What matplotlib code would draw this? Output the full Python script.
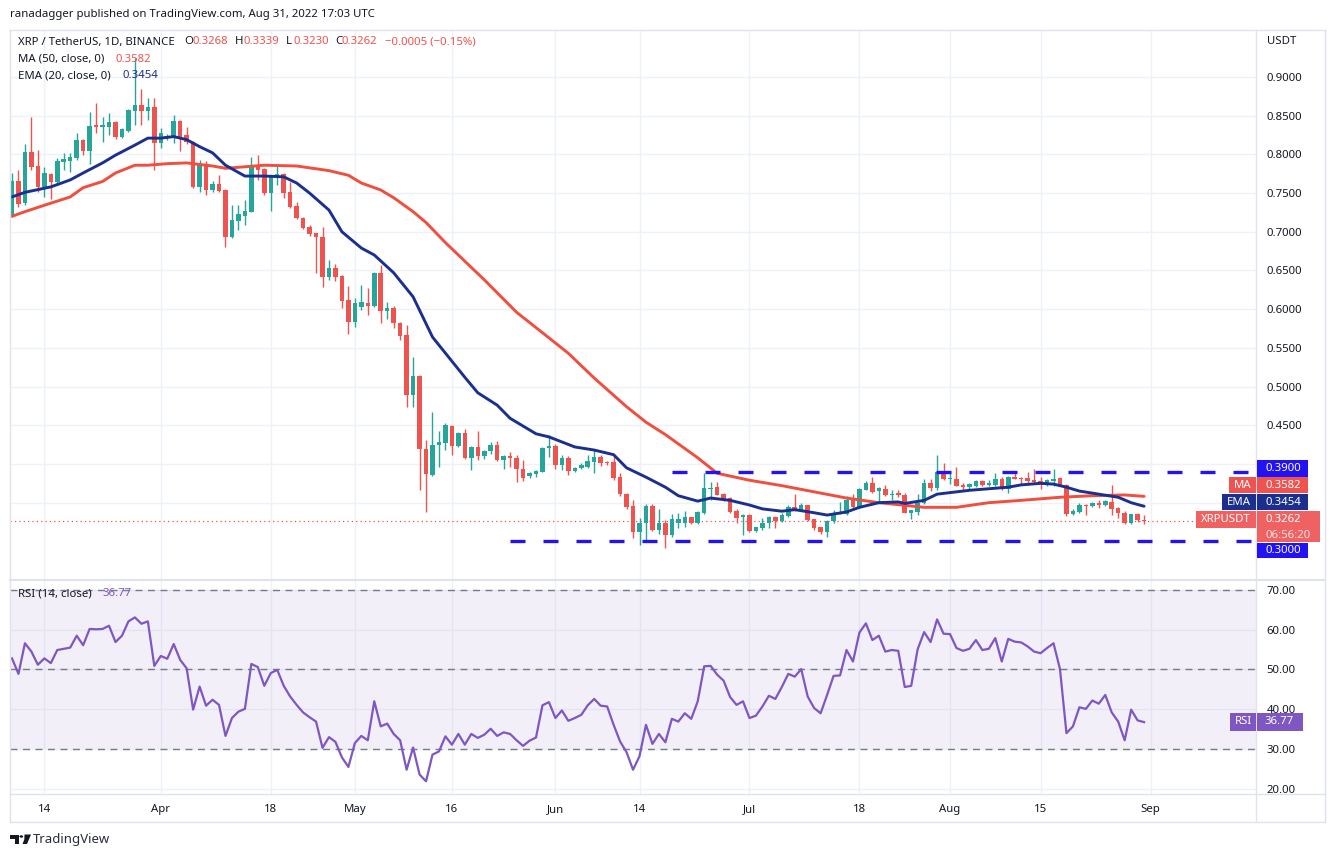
import matplotlib
matplotlib.use("Agg")
import matplotlib.pyplot as plt
import numpy as np
import pandas as pd
from matplotlib.patches import Rectangle, Polygon, Circle
from matplotlib.lines import Line2D

plt.rcParams['font.family'] = ['Noto Sans', 'DejaVu Sans']

# ---------------- data ----------------
dates = pd.date_range("2022-03-09", "2022-08-31", freq="D")

opens = [0.719,0.766,0.737,0.803,0.785,0.758,0.775,0.764,0.790,0.791,
         0.795,0.819,0.804,0.837,0.836,0.836,0.842,0.822,0.830,0.856,
         0.864,0.856,0.861,0.815,0.821,0.822,0.843,0.825,0.816,0.758,
         0.786,0.754,0.762,0.754,0.693,0.714,0.721,0.726,0.786,0.781,
         0.750,0.770,0.775,0.751,0.733,0.718,0.706,0.698,0.693,0.642,
         0.653,0.643,0.612,0.583,0.603,0.608,0.604,0.647,0.598,0.602,
         0.582,0.567,0.489,0.514,0.419,0.386,0.424,0.427,0.449,0.423,
         0.440,0.408,0.422,0.410,0.417,0.424,0.405,0.410,0.408,0.393,
         0.384,0.387,0.390,0.421,0.423,0.399,0.408,0.391,0.395,0.396,
         0.403,0.409,0.402,0.402,0.383,0.361,0.346,0.312,0.324,0.346,
         0.315,0.324,0.308,0.324,0.324,0.331,0.324,0.337,0.368,0.370,
         0.361,0.356,0.339,0.331,0.334,0.314,0.317,0.324,0.332,0.326,
         0.333,0.344,0.341,0.347,0.329,0.318,0.312,0.326,0.336,0.335,
         0.353,0.344,0.367,0.375,0.365,0.368,0.360,0.362,0.360,0.337,
         0.338,0.350,0.376,0.369,0.390,0.380,0.381,0.373,0.370,0.372,
         0.378,0.373,0.373,0.381,0.368,0.383,0.382,0.382,0.379,0.378,
         0.375,0.378,0.382,0.373,0.335,0.338,0.347,0.346,0.350,0.347,
         0.351,0.343,0.337,0.324,0.335,0.3268]

highs = [0.776,0.780,0.813,0.848,0.806,0.784,0.776,0.795,0.802,0.802,
         0.828,0.820,0.855,0.866,0.848,0.853,0.843,0.834,0.858,0.924,
         0.884,0.873,0.873,0.834,0.826,0.851,0.844,0.835,0.817,0.793,
         0.792,0.766,0.773,0.755,0.735,0.735,0.741,0.797,0.799,0.782,
         0.772,0.786,0.776,0.764,0.738,0.719,0.709,0.699,0.706,0.664,
         0.658,0.644,0.630,0.614,0.631,0.628,0.648,0.657,0.609,0.604,
         0.583,0.580,0.538,0.515,0.431,0.467,0.443,0.453,0.450,0.441,
         0.445,0.423,0.443,0.418,0.428,0.430,0.411,0.415,0.411,0.405,
         0.389,0.392,0.422,0.437,0.426,0.412,0.410,0.396,0.401,0.412,
         0.418,0.412,0.404,0.413,0.388,0.362,0.353,0.330,0.348,0.348,
         0.342,0.328,0.335,0.337,0.339,0.332,0.339,0.388,0.377,0.377,
         0.362,0.357,0.342,0.335,0.335,0.318,0.330,0.333,0.333,0.337,
         0.347,0.361,0.349,0.347,0.329,0.319,0.328,0.340,0.351,0.358,
         0.361,0.369,0.378,0.383,0.370,0.373,0.366,0.366,0.362,0.341,
         0.361,0.380,0.381,0.412,0.401,0.388,0.396,0.375,0.376,0.379,
         0.379,0.379,0.388,0.383,0.384,0.389,0.383,0.390,0.394,0.383,
         0.381,0.394,0.383,0.374,0.342,0.350,0.348,0.351,0.354,0.354,
         0.373,0.344,0.339,0.336,0.337,0.3339]

lows = [0.719,0.732,0.735,0.780,0.751,0.745,0.742,0.763,0.780,0.777,
        0.793,0.799,0.788,0.828,0.816,0.825,0.820,0.821,0.829,0.838,
        0.838,0.844,0.780,0.808,0.818,0.815,0.804,0.814,0.757,0.751,
        0.748,0.751,0.752,0.680,0.692,0.702,0.709,0.725,0.767,0.748,
        0.727,0.760,0.744,0.731,0.716,0.703,0.694,0.647,0.629,0.638,
        0.636,0.602,0.568,0.577,0.599,0.593,0.603,0.582,0.587,0.576,
        0.560,0.474,0.474,0.366,0.338,0.385,0.396,0.418,0.412,0.422,
        0.407,0.392,0.405,0.406,0.413,0.404,0.394,0.396,0.377,0.378,
        0.382,0.383,0.389,0.409,0.394,0.392,0.386,0.389,0.393,0.395,
        0.388,0.397,0.399,0.379,0.358,0.342,0.304,0.295,0.300,0.313,
        0.310,0.291,0.306,0.317,0.319,0.323,0.323,0.336,0.353,0.360,
        0.352,0.337,0.324,0.308,0.312,0.312,0.315,0.317,0.317,0.325,
        0.331,0.339,0.339,0.326,0.315,0.310,0.306,0.324,0.335,0.334,
        0.343,0.343,0.366,0.363,0.351,0.359,0.353,0.357,0.337,0.329,
        0.334,0.348,0.365,0.367,0.379,0.374,0.371,0.367,0.368,0.370,
        0.372,0.371,0.372,0.366,0.362,0.380,0.374,0.376,0.376,0.368,
        0.372,0.371,0.371,0.333,0.334,0.337,0.334,0.345,0.343,0.346,
        0.334,0.330,0.323,0.322,0.325,0.3230]

closes = [0.766,0.736,0.803,0.784,0.758,0.776,0.764,0.791,0.794,0.797,
          0.819,0.804,0.837,0.836,0.837,0.842,0.822,0.833,0.857,0.864,
          0.856,0.861,0.815,0.828,0.824,0.843,0.822,0.816,0.758,0.786,
          0.754,0.762,0.753,0.693,0.715,0.723,0.727,0.786,0.780,0.750,
          0.771,0.775,0.750,0.732,0.718,0.705,0.697,0.693,0.642,0.653,
          0.642,0.611,0.583,0.608,0.609,0.604,0.647,0.598,0.602,0.582,
          0.565,0.489,0.514,0.419,0.387,0.424,0.429,0.450,0.423,0.440,
          0.408,0.422,0.410,0.417,0.424,0.405,0.410,0.408,0.393,0.382,
          0.388,0.391,0.421,0.423,0.399,0.408,0.391,0.395,0.399,0.404,
          0.409,0.401,0.401,0.382,0.361,0.344,0.312,0.324,0.346,0.315,
          0.324,0.308,0.329,0.329,0.331,0.324,0.338,0.369,0.369,0.360,
          0.355,0.338,0.330,0.334,0.313,0.318,0.324,0.331,0.326,0.334,
          0.344,0.341,0.347,0.328,0.317,0.312,0.326,0.337,0.337,0.354,
          0.344,0.368,0.376,0.364,0.369,0.360,0.361,0.360,0.337,0.340,
          0.350,0.376,0.369,0.390,0.381,0.381,0.372,0.370,0.374,0.378,
          0.373,0.376,0.381,0.368,0.383,0.381,0.381,0.378,0.377,0.375,
          0.379,0.381,0.372,0.335,0.339,0.347,0.346,0.350,0.347,0.352,
          0.342,0.337,0.324,0.335,0.328,0.3262]

rsi_values = [52.8,48.9,56.6,54.5,51.2,52.8,51.6,54.9,55.2,55.5,
              58.5,56.1,60.2,60.1,60.2,61.0,56.9,58.5,62.1,63.1,
              61.5,62.1,50.9,53.4,52.7,56.4,52.4,50.3,39.9,45.7,
              40.9,42.4,41.1,33.3,37.8,39.4,40.1,51.4,50.6,45.9,
              49.1,49.9,45.9,43.2,41.1,39.2,38.0,36.9,30.3,33.0,
              31.8,27.9,25.5,31.5,33.3,32.2,42.0,35.7,36.4,33.8,
              32.2,24.8,30.4,23.6,21.9,28.6,29.4,33.2,31.1,33.8,
              31.1,33.8,32.8,33.6,35.1,33.3,34.2,33.8,32.2,30.8,
              32.1,32.9,41.0,41.8,37.8,39.7,37.1,37.8,38.6,41.0,
              42.6,40.9,40.7,36.1,31.9,29.2,24.8,28.2,36.1,31.3,
              33.8,31.7,37.6,36.9,39.0,37.6,42.0,50.8,50.9,48.7,
              47.2,43.1,41.1,42.0,37.8,38.4,40.7,43.4,42.6,45.6,
              48.9,48.2,50.1,43.2,40.3,39.0,43.6,48.4,48.5,54.9,
              52.0,59.3,61.6,57.4,58.5,54.5,54.9,54.7,45.6,45.9,
              55.1,59.4,56.9,62.6,59.0,58.9,55.4,54.7,55.2,57.4,
              54.9,55.2,57.9,52.0,57.7,57.0,56.8,55.8,54.5,54.1,
              55.4,56.6,50.1,34.0,35.7,40.5,40.1,42.2,41.4,43.6,
              39.2,36.9,32.2,39.9,37.2,36.77]

# moving averages read at sample days (day index from first candle)
ma50_days = [0,2,6,9,11,14,16,19,21,24,27,31,33,39,44,49,52,54,57,59,62,64,67,73,78,
             83,86,90,95,98,101,106,109,114,119,124,129,134,141,146,151,156,162,167,172,175]
ma50_values = [0.720,0.726,0.737,0.745,0.757,0.765,0.776,0.786,0.786,0.788,0.789,0.785,
               0.782,0.786,0.785,0.779,0.773,0.763,0.754,0.744,0.726,0.712,0.686,0.638,
               0.596,0.563,0.543,0.511,0.474,0.454,0.438,0.408,0.388,0.379,0.372,0.364,
               0.356,0.350,0.344,0.344,0.350,0.353,0.357,0.359,0.360,0.3582]
ema20_days = [0,2,6,9,11,14,16,19,21,23,25,27,29,31,33,36,39,42,44,46,49,51,54,56,59,62,
              65,70,72,75,77,81,83,87,90,93,95,98,101,103,106,108,111,114,116,119,121,124,
              126,129,131,134,137,138,141,143,146,148,151,154,156,159,161,163,165,168,171,
              173,175]
ema20_values = [0.745,0.751,0.758,0.767,0.776,0.789,0.799,0.812,0.821,0.821,0.823,0.819,
                0.810,0.802,0.786,0.772,0.772,0.771,0.763,0.750,0.728,0.700,0.679,0.670,
                0.647,0.616,0.564,0.512,0.492,0.476,0.459,0.439,0.435,0.422,0.418,0.412,
                0.395,0.383,0.370,0.359,0.352,0.356,0.353,0.347,0.342,0.339,0.341,0.337,
                0.334,0.338,0.344,0.350,0.351,0.349,0.353,0.361,0.364,0.366,0.368,0.370,
                0.373,0.375,0.374,0.370,0.365,0.361,0.357,0.350,0.3454]

change_abs = -0.0005
change_pct = -0.15
resistance_level = 0.39
resistance_start = "2022-06-19"
support_level = 0.30
support_start = "2022-05-25"
last_price = 0.3262
countdown = "06:56:20"

tick_dates = ["2022-03-14","2022-04-01","2022-04-18","2022-05-01","2022-05-16","2022-06-01",
              "2022-06-14","2022-07-01","2022-07-18","2022-08-01","2022-08-15","2022-09-01"]
tick_labels = ["14","Apr","18","May","16","Jun","14","Jul","18","Aug","15","Sep"]
month_labels = {"Apr","May","Jun","Jul","Aug","Sep"}
price_ticks = [0.35,0.40,0.45,0.50,0.55,0.60,0.65,0.70,0.75,0.80,0.85,0.90]
hidden_price_labels = [0.35, 0.40]   # covered by the MA / EMA / 0.39 tags
rsi_ticks = [20,30,40,50,60,70]

# ---------------- style ----------------
GREEN = '#26a69a'
RED = '#ef5350'
MA_COLOR = '#f04e3e'
EMA_COLOR = '#1b2f8f'
LEVEL_BLUE = '#2313f2'
RSI_COLOR = '#7e57c2'
TXT = '#131722'
GRID = '#eef1f6'
BORDER = '#e0e3eb'

W, H = 1335, 857
fig = plt.figure(figsize=(W / 100, H / 100), dpi=100)
fig.patch.set_facecolor('white')

def fx(px):
    return px / W

def fy(py):
    return 1 - py / H

L, R = 10, 1256
P_TOP, P_BOT = 30, 579
R_TOP, R_BOT = 580, 794

ax = fig.add_axes([fx(L), fy(P_BOT), (R - L) / W, (P_BOT - P_TOP) / H])
axr = fig.add_axes([fx(L), fy(R_BOT), (R - L) / W, (R_BOT - R_TOP) / H], sharex=ax)

t0 = dates[0]
x = np.array([(d - t0).days for d in dates], dtype=float)
o = np.array(opens); h = np.array(highs); l = np.array(lows); c = np.array(closes)
up = c >= o
cols = np.where(up, GREEN, RED)

xmin, xmax = -0.31, 192.3
ax.set_xlim(xmin, xmax)
ax.set_ylim(0.2514, 0.9607)
axr.set_ylim(18.7, 72.5)

tick_pos = [(pd.Timestamp(d) - t0).days for d in tick_dates]

for a in (ax, axr):
    a.set_facecolor('white')
    for s in a.spines.values():
        s.set_visible(False)
    a.set_xticks(tick_pos)
    a.grid(True, color=GRID, lw=1, zorder=0)
    a.set_axisbelow(True)
    a.yaxis.tick_right()
    a.tick_params(axis='y', length=0, pad=7.5, labelsize=8.2, labelcolor=TXT)
    a.tick_params(axis='x', length=0)

ax.tick_params(axis='x', labelbottom=False)
axr.set_xticks(tick_pos, tick_labels)
axr.tick_params(axis='x', labelbottom=True, labelsize=8.2, labelcolor=TXT, pad=7)
for lab in axr.get_xticklabels():
    if lab.get_text() in month_labels:
        lab.set_fontweight('semibold')

ax.set_yticks(price_ticks, ["" if v in hidden_price_labels else f"{v:.4f}" for v in price_ticks])
axr.set_yticks(rsi_ticks, [f"{v:.2f}" for v in rsi_ticks])

# candles
ax.vlines(x, l, h, colors=cols, lw=1.0, zorder=3)
body_bottom = np.minimum(o, c)
body_h = np.maximum(np.abs(c - o), 0.0014)
ax.bar(x, body_h, bottom=body_bottom, width=0.7, color=cols, linewidth=0, zorder=4)

# moving averages
ax.plot(ma50_days, ma50_values, color=MA_COLOR, lw=2.1, zorder=5, solid_capstyle='round')
ax.plot(ema20_days, ema20_values, color=EMA_COLOR, lw=2.1, zorder=5, solid_capstyle='round')

# horizontal levels drawn by the author
for lev, start in ((resistance_level, resistance_start), (support_level, support_start)):
    xs = (pd.Timestamp(start) - t0).days
    ax.plot([xs, xmax], [lev, lev], color=LEVEL_BLUE, lw=2.4, dashes=(4.5, 5.4),
            dash_capstyle='butt', zorder=6)

# last price dotted line
ax.axhline(last_price, color=RED, lw=0.9, ls=(0, (1, 2.5)), zorder=2)

# RSI pane
axr.axhspan(30, 70, color=RSI_COLOR, alpha=0.09, lw=0, zorder=1)
for lev in (70, 50, 30):
    axr.axhline(lev, color='#787b86', lw=1, dashes=(5, 4), zorder=2)
axr.plot(x, rsi_values, color=RSI_COLOR, lw=1.6, zorder=4)

# ---------------- frame lines ----------------
def fline(x0, y0, x1, y1, color=BORDER, lw=1.0):
    fig.add_artist(Line2D([fx(x0), fx(x1)], [fy(y0), fy(y1)], transform=fig.transFigure,
                          color=color, lw=lw, zorder=2))

fline(10, 30, 1325, 30)
fline(10, 822, 1325, 822)
fline(10, 30, 10, 822)
fline(1325, 30, 1325, 822)
fline(1256, 30, 1256, 822)
fline(10, 579.5, 1325, 579.5, lw=1.5)
fline(10, 794, 1325, 794)

# ---------------- texts ----------------
def ftext(px, py, s, color=TXT, size=8.2, ha='left', va='center', weight='normal', z=7):
    return fig.text(fx(px), fy(py), s, color=color, fontsize=size, ha=ha, va=va,
                    fontweight=weight, zorder=z)

ftext(10, 14, "ranadagger published on TradingView.com, Aug 31, 2022 17:03 UTC")
ftext(18, 42, "XRP / TetherUS, 1D, BINANCE")
o_last, h_last, l_last, c_last = opens[-1], highs[-1], lows[-1], closes[-1]
ftext(184, 42, "O"); ftext(192, 42, f"{o_last:.4f}", color=RED)
ftext(235, 42, "H"); ftext(243, 42, f"{h_last:.4f}", color=RED)
ftext(286, 42, "L"); ftext(293, 42, f"{l_last:.4f}", color=RED)
ftext(335, 42, "C"); ftext(342, 42, f"{c_last:.4f}", color=RED)
ftext(385, 42, f"\u2212{abs(change_abs):.4f} (\u2212{abs(change_pct):.2f}%)", color=RED)
ftext(18, 59, "MA (50, close, 0)")
ftext(116, 59, f"{ma50_values[-1]:.4f}", color=RED)
ftext(18, 76, "EMA (20, close, 0)")
ftext(123, 76, f"{ema20_values[-1]:.4f}", color=EMA_COLOR)
ftext(18, 594, "RSI (14, close)")
ftext(102, 594, f"{rsi_values[-1]:.2f}", color=RSI_COLOR)
ftext(1267, 41, "USDT")

# ---------------- right-side tags ----------------
def fbox(x0, y0, x1, y1, color):
    fig.add_artist(Rectangle((fx(x0), fy(y1)), (x1 - x0) / W, (y1 - y0) / H,
                             transform=fig.transFigure, facecolor=color, edgecolor='none',
                             zorder=6))

fbox(1257, 460, 1308, 477, LEVEL_BLUE)
ftext(1266, 468.5, f"{resistance_level:.4f}", color='white', weight='bold')
fbox(1229, 477, 1256, 493, RED)
ftext(1242.5, 485, "MA", color='white', ha='center', weight='bold')
fbox(1257, 477, 1308, 493, RED)
ftext(1266, 485, f"{ma50_values[-1]:.4f}", color='white', weight='bold')
fbox(1222, 494, 1256, 510, EMA_COLOR)
ftext(1239, 502, "EMA", color='white', ha='center', weight='bold')
fbox(1257, 494, 1308, 510, EMA_COLOR)
ftext(1266, 502, f"{ema20_values[-1]:.4f}", color='white', weight='bold')
fbox(1196, 511, 1256, 528, '#f06262')
ftext(1226, 519.5, "XRPUSDT", color='white', ha='center', weight='bold')
fbox(1257, 511, 1320, 542, '#f06262')
ftext(1266, 519.5, f"{last_price:.4f}", color='white', weight='bold')
ftext(1266, 535, countdown, color='#fde3e3')
fbox(1257, 543, 1308, 558, LEVEL_BLUE)
ftext(1266, 550.5, f"{support_level:.4f}", color='white', weight='bold')

fbox(1230, 713, 1256, 731, RSI_COLOR)
ftext(1243, 722, "RSI", color='white', ha='center', weight='bold')
fbox(1257, 713, 1303, 731, RSI_COLOR)
ftext(1264, 722, f"{rsi_values[-1]:.2f}", color='white', weight='bold')

# ---------------- TradingView logo ----------------
def fpoly(pts, color=TXT):
    fig.add_artist(Polygon([(fx(px), fy(py)) for px, py in pts], closed=True,
                           transform=fig.transFigure, facecolor=color, edgecolor='none'))

fpoly([(10, 834.5), (18.5, 834.5), (18.5, 844), (14.5, 844), (14.5, 838.5), (10, 838.5)])
fig.add_artist(Circle((fx(21.3), fy(836.5)), 1.9 / W, transform=fig.transFigure,
                      facecolor=TXT, edgecolor='none'))
fpoly([(24.5, 834.5), (31, 834.5), (27, 844), (22.5, 844), (24.3, 839.5)])
ftext(33, 839.5, "TradingView", size=9.5, color='#2a2e39')

fig.savefig("out.png", dpi=100, facecolor='white')
